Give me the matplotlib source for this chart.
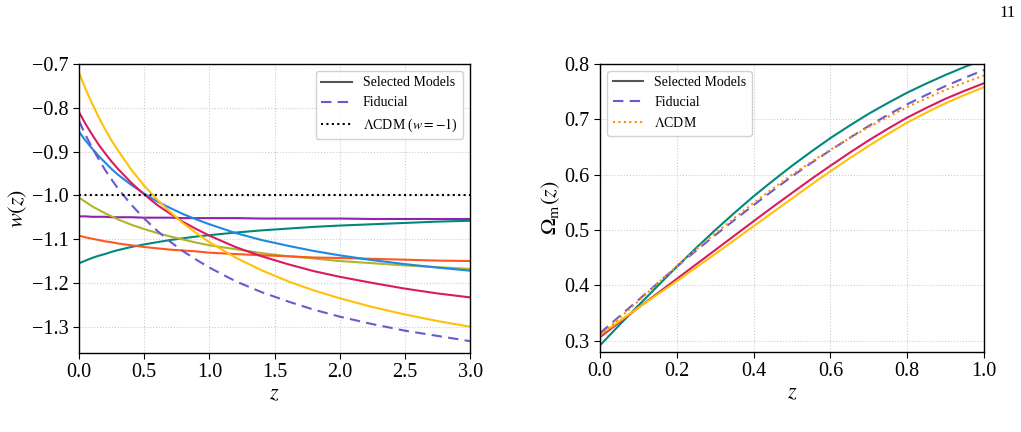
import matplotlib
matplotlib.use("Agg")
import matplotlib.pyplot as plt
from matplotlib.lines import Line2D

plt.rcParams["font.family"] = "serif"
plt.rcParams["font.serif"] = ["Liberation Serif", "DejaVu Serif"]
plt.rcParams["mathtext.fontset"] = "stix"

# ---- left panel: w(z) ----
z_w = [0.0, 0.05, 0.1, 0.15, 0.2, 0.25, 0.3, 0.4, 0.5, 0.6, 0.7, 0.8, 0.9, 1.0,
       1.2, 1.4, 1.6, 1.8, 2.0, 2.25, 2.5, 2.75, 3.0]

w_yellow = [-0.720, -0.757, -0.790, -0.821, -0.849, -0.875, -0.898, -0.941, -0.978, -1.010,
            -1.038, -1.064, -1.086, -1.107, -1.142, -1.171, -1.196, -1.217, -1.235, -1.255,
            -1.272, -1.287, -1.300]
w_crimson = [-0.810, -0.837, -0.861, -0.884, -0.904, -0.923, -0.940, -0.971, -0.998, -1.022,
             -1.042, -1.061, -1.077, -1.092, -1.118, -1.139, -1.157, -1.173, -1.186, -1.200,
             -1.213, -1.224, -1.233]
w_blue = [-0.855, -0.875, -0.893, -0.910, -0.925, -0.940, -0.953, -0.976, -0.996, -1.014,
          -1.029, -1.043, -1.055, -1.066, -1.086, -1.102, -1.115, -1.127, -1.137, -1.148,
          -1.157, -1.165, -1.172]
w_purple = [-1.048, -1.048, -1.049, -1.049, -1.049, -1.050, -1.050, -1.050, -1.051, -1.051,
            -1.051, -1.052, -1.052, -1.052, -1.052, -1.053, -1.053, -1.053, -1.053, -1.054,
            -1.054, -1.054, -1.054]
w_teal = [-1.155, -1.149, -1.143, -1.138, -1.134, -1.129, -1.125, -1.118, -1.112, -1.107,
          -1.102, -1.098, -1.094, -1.091, -1.085, -1.080, -1.076, -1.072, -1.069, -1.066,
          -1.063, -1.060, -1.058]
w_olive = [-1.005, -1.015, -1.025, -1.033, -1.041, -1.048, -1.055, -1.067, -1.077, -1.086,
           -1.094, -1.101, -1.108, -1.114, -1.123, -1.132, -1.139, -1.144, -1.150, -1.155,
           -1.160, -1.164, -1.168]
w_orange = [-1.092, -1.096, -1.099, -1.102, -1.105, -1.107, -1.110, -1.114, -1.118, -1.121,
            -1.124, -1.126, -1.128, -1.131, -1.134, -1.137, -1.139, -1.142, -1.143, -1.145,
            -1.147, -1.149, -1.150]
w_fiducial = [-0.830, -0.862, -0.891, -0.917, -0.942, -0.964, -0.985, -1.021, -1.053, -1.081,
              -1.106, -1.128, -1.147, -1.165, -1.196, -1.221, -1.242, -1.261, -1.277, -1.294,
              -1.309, -1.321, -1.333]
w_lcdm = -1.0

# ---- right panel: Omega_m(z) ----
z_om = [0.0, 0.05, 0.1, 0.15, 0.2, 0.25, 0.3, 0.35, 0.4, 0.45, 0.5,
        0.55, 0.6, 0.65, 0.7, 0.75, 0.8, 0.85, 0.9, 0.95, 1.0]

om_teal = [0.292, 0.3285, 0.364, 0.399, 0.434, 0.4675, 0.500, 0.531, 0.561, 0.589, 0.616,
           0.6415, 0.666, 0.6885, 0.710, 0.7295, 0.748, 0.7645, 0.780, 0.7945, 0.808]
om_crimson = [0.307, 0.3335, 0.360, 0.386, 0.412, 0.438, 0.464, 0.490, 0.516, 0.5418, 0.567,
              0.592, 0.616, 0.6395, 0.662, 0.683, 0.703, 0.7205, 0.737, 0.7515, 0.765]
om_yellow = [0.311, 0.3355, 0.360, 0.384, 0.408, 0.4325, 0.457, 0.482, 0.507, 0.532, 0.557,
             0.582, 0.606, 0.6295, 0.652, 0.6735, 0.694, 0.712, 0.729, 0.744, 0.758]
om_fiducial = [0.314, 0.344, 0.374, 0.404, 0.434, 0.4628, 0.491, 0.5182, 0.545, 0.5713, 0.597,
               0.621, 0.644, 0.6663, 0.688, 0.708, 0.727, 0.744, 0.760, 0.7748, 0.789]
om_lcdm = [0.309, 0.3406, 0.372, 0.4036, 0.435, 0.465, 0.494, 0.5218, 0.549, 0.5748, 0.600,
           0.623, 0.645, 0.666, 0.686, 0.7043, 0.722, 0.7378, 0.753, 0.7663, 0.779]

C_YELLOW = "#FFC107"
C_CRIMSON = "#D81B60"
C_BLUE = "#1E88E5"
C_PURPLE = "#8E24AA"
C_TEAL = "#00897B"
C_OLIVE = "#AFB42B"
C_ORANGE = "#FF5722"
C_FID = "#6A5ACD"
C_LCDM = "#FF8C00"
C_GRAY = "#555555"

TICK_FS = 14.5
LABEL_FS = 16
LEG_FS = 10

fig = plt.figure(figsize=(10.21, 4.32), dpi=100)
ax1 = fig.add_axes([0.0774, 0.1829, 0.383, 0.669])
ax2 = fig.add_axes([0.5877, 0.1852, 0.376, 0.667])

lw = 1.5
dash = (0, (5, 3))
dots = (0, (1, 1.6))

for vals, col in [(w_purple, C_PURPLE), (w_teal, C_TEAL), (w_olive, C_OLIVE),
                  (w_orange, C_ORANGE), (w_blue, C_BLUE), (w_crimson, C_CRIMSON),
                  (w_yellow, C_YELLOW)]:
    ax1.plot(z_w, vals, color=col, lw=lw)
ax1.plot(z_w, w_fiducial, color=C_FID, lw=lw, ls=dash)
ax1.axhline(w_lcdm, color="black", lw=1.5, ls=dots)

ax1.set_xlim(0, 3.0)
ax1.set_ylim(-1.36, -0.7)
ax1.set_xticks([0.0, 0.5, 1.0, 1.5, 2.0, 2.5, 3.0])
ax1.set_yticks([-1.3, -1.2, -1.1, -1.0, -0.9, -0.8, -0.7])
ax1.set_xlabel(r"$z$", fontsize=LABEL_FS, labelpad=2)
ax1.set_ylabel(r"$w(z)$", fontsize=LABEL_FS, labelpad=2)
ax1.grid(True, ls=":", color="#cccccc", lw=0.8)

h1 = [Line2D([], [], color=C_GRAY, lw=lw),
      Line2D([], [], color=C_FID, lw=lw, ls=dash),
      Line2D([], [], color="black", lw=1.5, ls=dots)]
ax1.legend(h1, ["Selected Models", "Fiducial", r"$\Lambda$CDM ($w=-1$)"],
           loc="upper right", fontsize=LEG_FS, frameon=True, framealpha=0.9,
           edgecolor="#cccccc", handlelength=2.2)

for vals, col in [(om_teal, C_TEAL), (om_crimson, C_CRIMSON), (om_yellow, C_YELLOW)]:
    ax2.plot(z_om, vals, color=col, lw=lw)
ax2.plot(z_om, om_fiducial, color=C_FID, lw=lw, ls=dash)
ax2.plot(z_om, om_lcdm, color=C_LCDM, lw=1.5, ls=dots)

ax2.set_xlim(0, 1.0)
ax2.set_ylim(0.28, 0.8)
ax2.set_xticks([0.0, 0.2, 0.4, 0.6, 0.8, 1.0])
ax2.set_yticks([0.3, 0.4, 0.5, 0.6, 0.7, 0.8])
ax2.set_xlabel(r"$z$", fontsize=LABEL_FS, labelpad=2)
ax2.set_ylabel(r"$\Omega_{\rm m}(z)$", fontsize=LABEL_FS, labelpad=2)
ax2.grid(True, ls=":", color="#cccccc", lw=0.8)

h2 = [Line2D([], [], color=C_GRAY, lw=lw),
      Line2D([], [], color=C_FID, lw=lw, ls=dash),
      Line2D([], [], color=C_LCDM, lw=1.5, ls=dots)]
ax2.legend(h2, ["Selected Models", "Fiducial", r"$\Lambda$CDM"],
           loc="upper left", fontsize=LEG_FS, frameon=True, framealpha=0.9,
           edgecolor="#cccccc", handlelength=2.2)

for ax in (ax1, ax2):
    ax.tick_params(labelsize=TICK_FS, direction="out", length=4, width=0.8)
    for sp in ax.spines.values():
        sp.set_linewidth(1.0)

fig.text(0.995, 0.97, "11", ha="right", va="center", fontsize=12)

fig.savefig("out.png", dpi=100)
